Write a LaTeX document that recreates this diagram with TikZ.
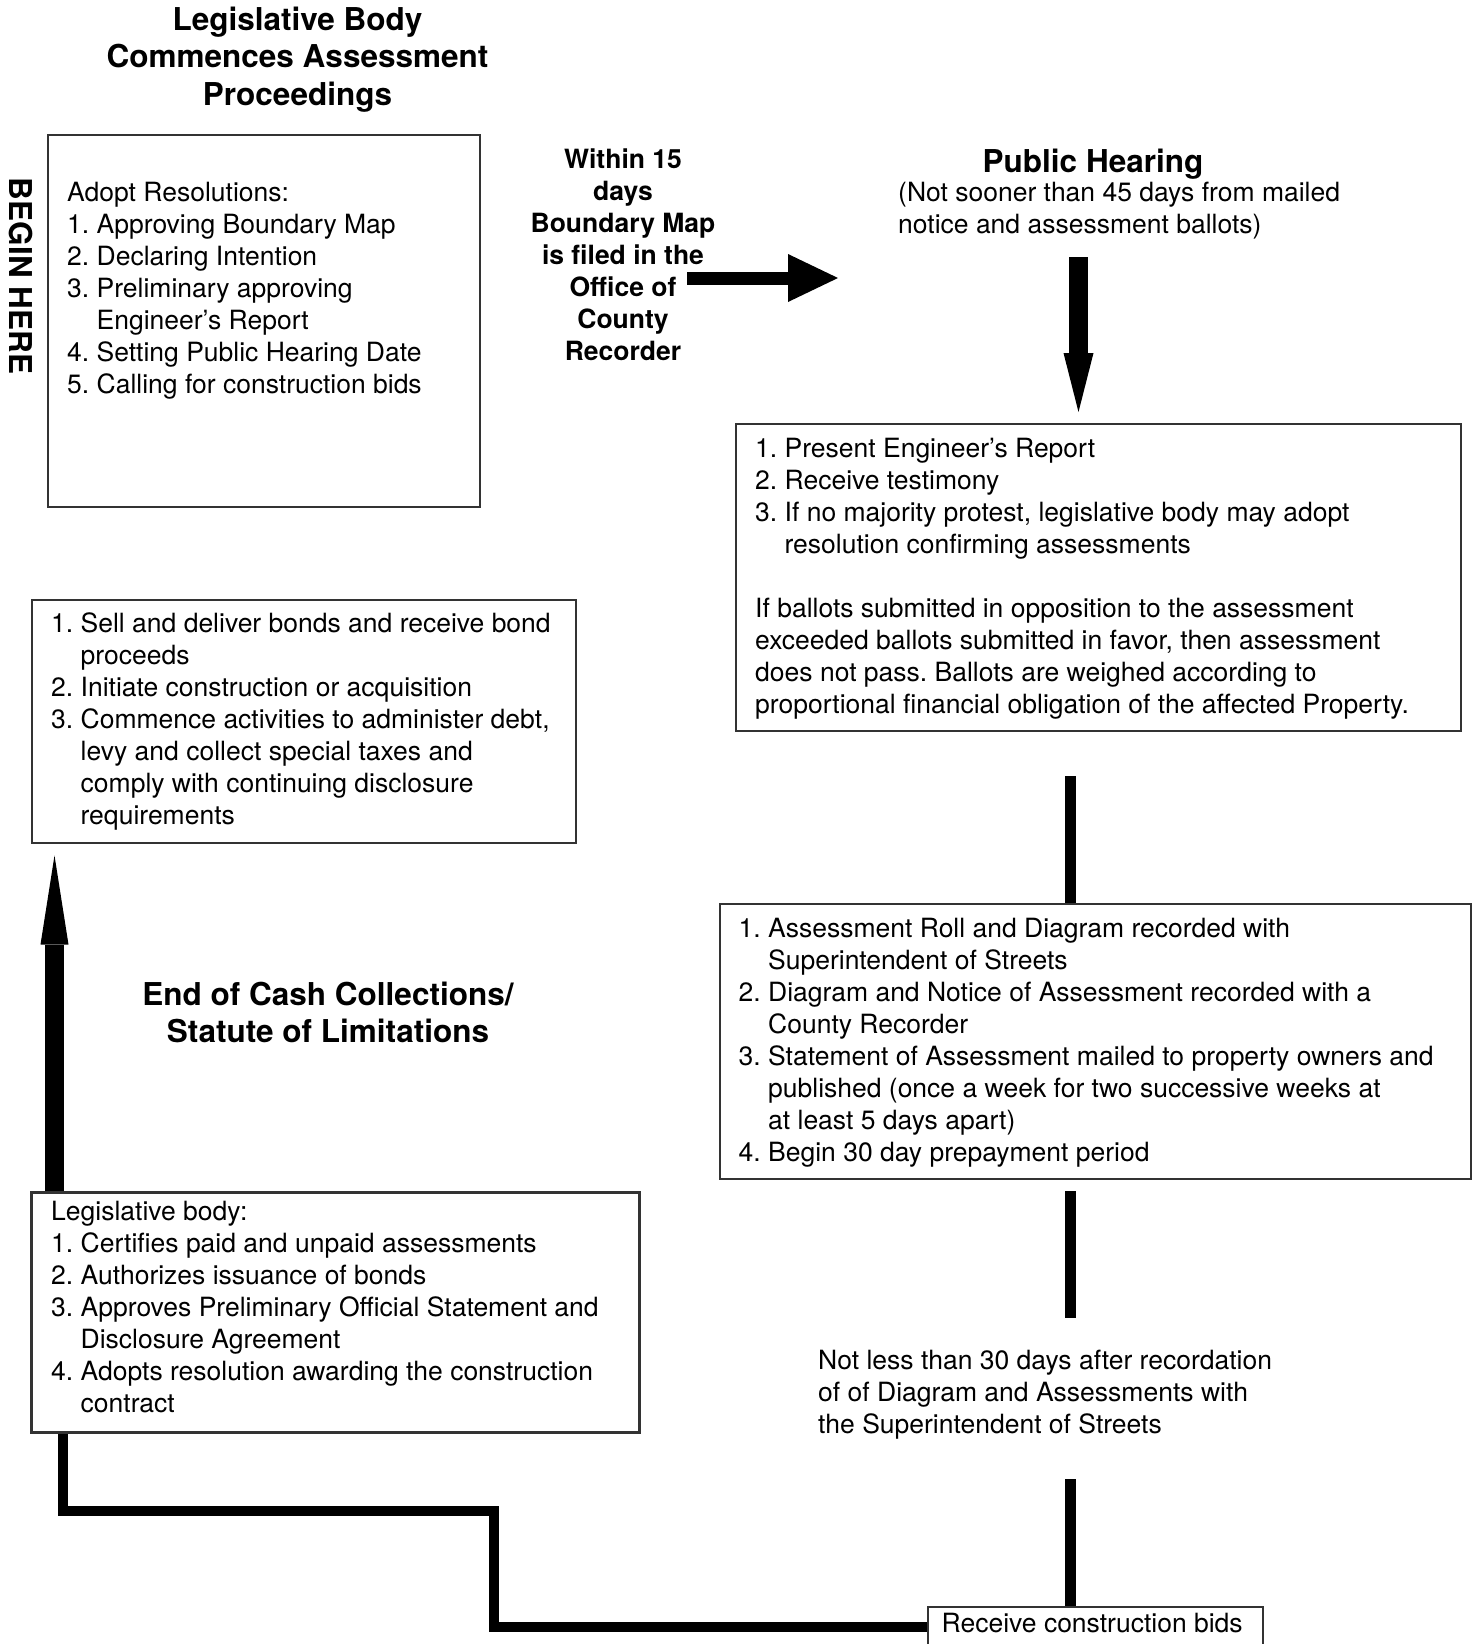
\documentclass[tikz,border=0pt]{standalone}
\usepackage{fontspec}
\setmainfont{TeX Gyre Heros}
\usetikzlibrary{arrows.meta}
\frenchspacing
\newcommand{\ind}{\hphantom{0. }}
\tikzset{
	box/.style={draw=black!80, line width=1.5pt, inner sep=0pt, anchor=north west},
	body/.style={font=\fontsize{26.5}{32}\selectfont, align=left, anchor=base west, inner sep=0pt},
	head/.style={font=\fontsize{31.5}{37.5}\selectfont\bfseries, align=center, anchor=base, inner sep=0pt},
	stem/.style={line width=11pt},
	trail/.style={line width=10pt, line join=miter},
	fatarrow/.style={line width=13pt, -{Triangle[length=50pt,width=48pt,line width=0pt]}},
	downarrow/.style={line width=19pt, -{Triangle[length=59pt,width=30pt,line width=0pt]}},
	uparrow/.style={line width=19pt, -{Triangle[length=89pt,width=28pt,line width=0pt]}}
}

\begin{document}
\begin{tikzpicture}[x=1pt,y=-1pt]
			%%%%% START %%%%%
			% base of a multi-line node = baseline of its last line
			\useasboundingbox (0,0) rectangle (1474,1644);
			
			\node[head] (title) at (297.5,105) {Legislative Body\\Commences Assessment\\Proceedings};
			\node[font=\fontsize{31.5}{37.5}\selectfont\bfseries, rotate=-90, inner sep=0pt] (begin) at (20.5,276) {BEGIN HERE};
			
			\node[box, minimum width=432pt, minimum height=372pt] (adopt) at (47,134) {};
			\node[body] (adopttxt) at (67,393) {Adopt Resolutions:\\1. Approving Boundary Map\\2. Declaring Intention\\3. Preliminary approving\\\ind Engineer’s Report\\4. Setting Public Hearing Date\\5. Calling for construction bids};
			
			\node[font=\fontsize{26.5}{32}\selectfont\bfseries, align=center, anchor=base, inner sep=0pt] (within) at (623,360) {Within 15\\days\\Boundary Map\\is filed in the\\Office of\\County\\Recorder};
			\coordinate (mapstart) at (687,278);
			\coordinate (mapend) at (838,278);
			\draw[fatarrow] (mapstart) -- (mapend);
			
			\node[head] (ph) at (1093,172) {Public Hearing};
			\node[body] (phnote) at (898,233) {(Not sooner than 45 days from mailed\\notice and assessment ballots)};
			
			\node[box, minimum width=725pt, minimum height=307pt] (hearing) at (735,423) {};
			\node[body] (hearingtxt) at (755,713) {1. Present Engineer’s Report\\2. Receive testimony\\3. If no majority protest, legislative body may adopt\\\ind resolution confirming assessments\\[32pt]If ballots submitted in opposition to the assessment\\exceeded ballots submitted in favor, then assessment\\does not pass. Ballots are weighed according to\\proportional financial obligation of the affected Property.};
			\coordinate (hearstart) at (1078.5,257);
			\draw[downarrow, shorten >=11pt] (hearstart) -- (hearstart |- hearing.north);
			
			\node[box, minimum width=751pt, minimum height=275pt] (roll) at (719,903) {};
			\node[body] (rolltxt) at (738.5,1161) {1. Assessment Roll and Diagram recorded with\\\ind Superintendent of Streets\\2. Diagram and Notice of Assessment recorded with a\\\ind County Recorder\\3. Statement of Assessment mailed to property owners and\\\ind published (once a week for two successive weeks at\\\ind at least 5 days apart)\\4. Begin 30 day prepayment period};
			\coordinate (rollin) at (1070.5,776);
			\draw[stem] (rollin) -- (rollin |- roll.north);
			
			\coordinate (waittop) at (1070.5,1191);
			\coordinate (waitbot) at (1070.5,1318);
			\draw[stem] (waittop) -- (waitbot);
			\node[body] (waittxt) at (818,1433) {Not less than 30 days after recordation\\of of Diagram and Assessments with\\the Superintendent of Streets};
			
			\node[box, minimum width=335pt, minimum height=40pt] (bids) at (927,1606) {};
			\node[body] (bidstxt) at (941.5,1632) {Receive construction bids};
			\coordinate (bidsin) at (1070.5,1479);
			\draw[stem] (bidsin) -- (bidsin |- bids.north);
			
			\node[box, line width=3pt, minimum width=608pt, minimum height=240pt] (legis) at (30,1191) {};
			\node[body] (legistxt) at (51,1412) {Legislative body:\\1. Certifies paid and unpaid assessments\\2. Authorizes issuance of bonds\\3. Approves Preliminary Official Statement and\\\ind Disclosure Agreement\\4. Adopts resolution awarding the construction\\\ind contract};
			\coordinate (jog) at (494,1511);
			\coordinate (trailx) at (63,0);
			\draw[trail] (bids.west) -| (jog) -| (trailx |- legis.south);
			
			\node[box, minimum width=544pt, minimum height=243pt] (sell) at (31,599) {};
			\node[body] (selltxt) at (51,824) {1. Sell and deliver bonds and receive bond\\\ind proceeds\\2. Initiate construction or acquisition\\3. Commence activities to administer debt,\\\ind levy and collect special taxes and\\\ind comply with continuing disclosure\\\ind requirements};
			\coordinate (upx) at (54.5,0);
			\draw[uparrow, shorten >=12pt] (upx |- legis.north) -- (upx |- sell.south);
			
			\node[head] (endcash) at (328,1042.5) {End of Cash Collections/\\Statute of Limitations};
			
			%%%%% END %%%%%
\end{tikzpicture}
\end{document}
